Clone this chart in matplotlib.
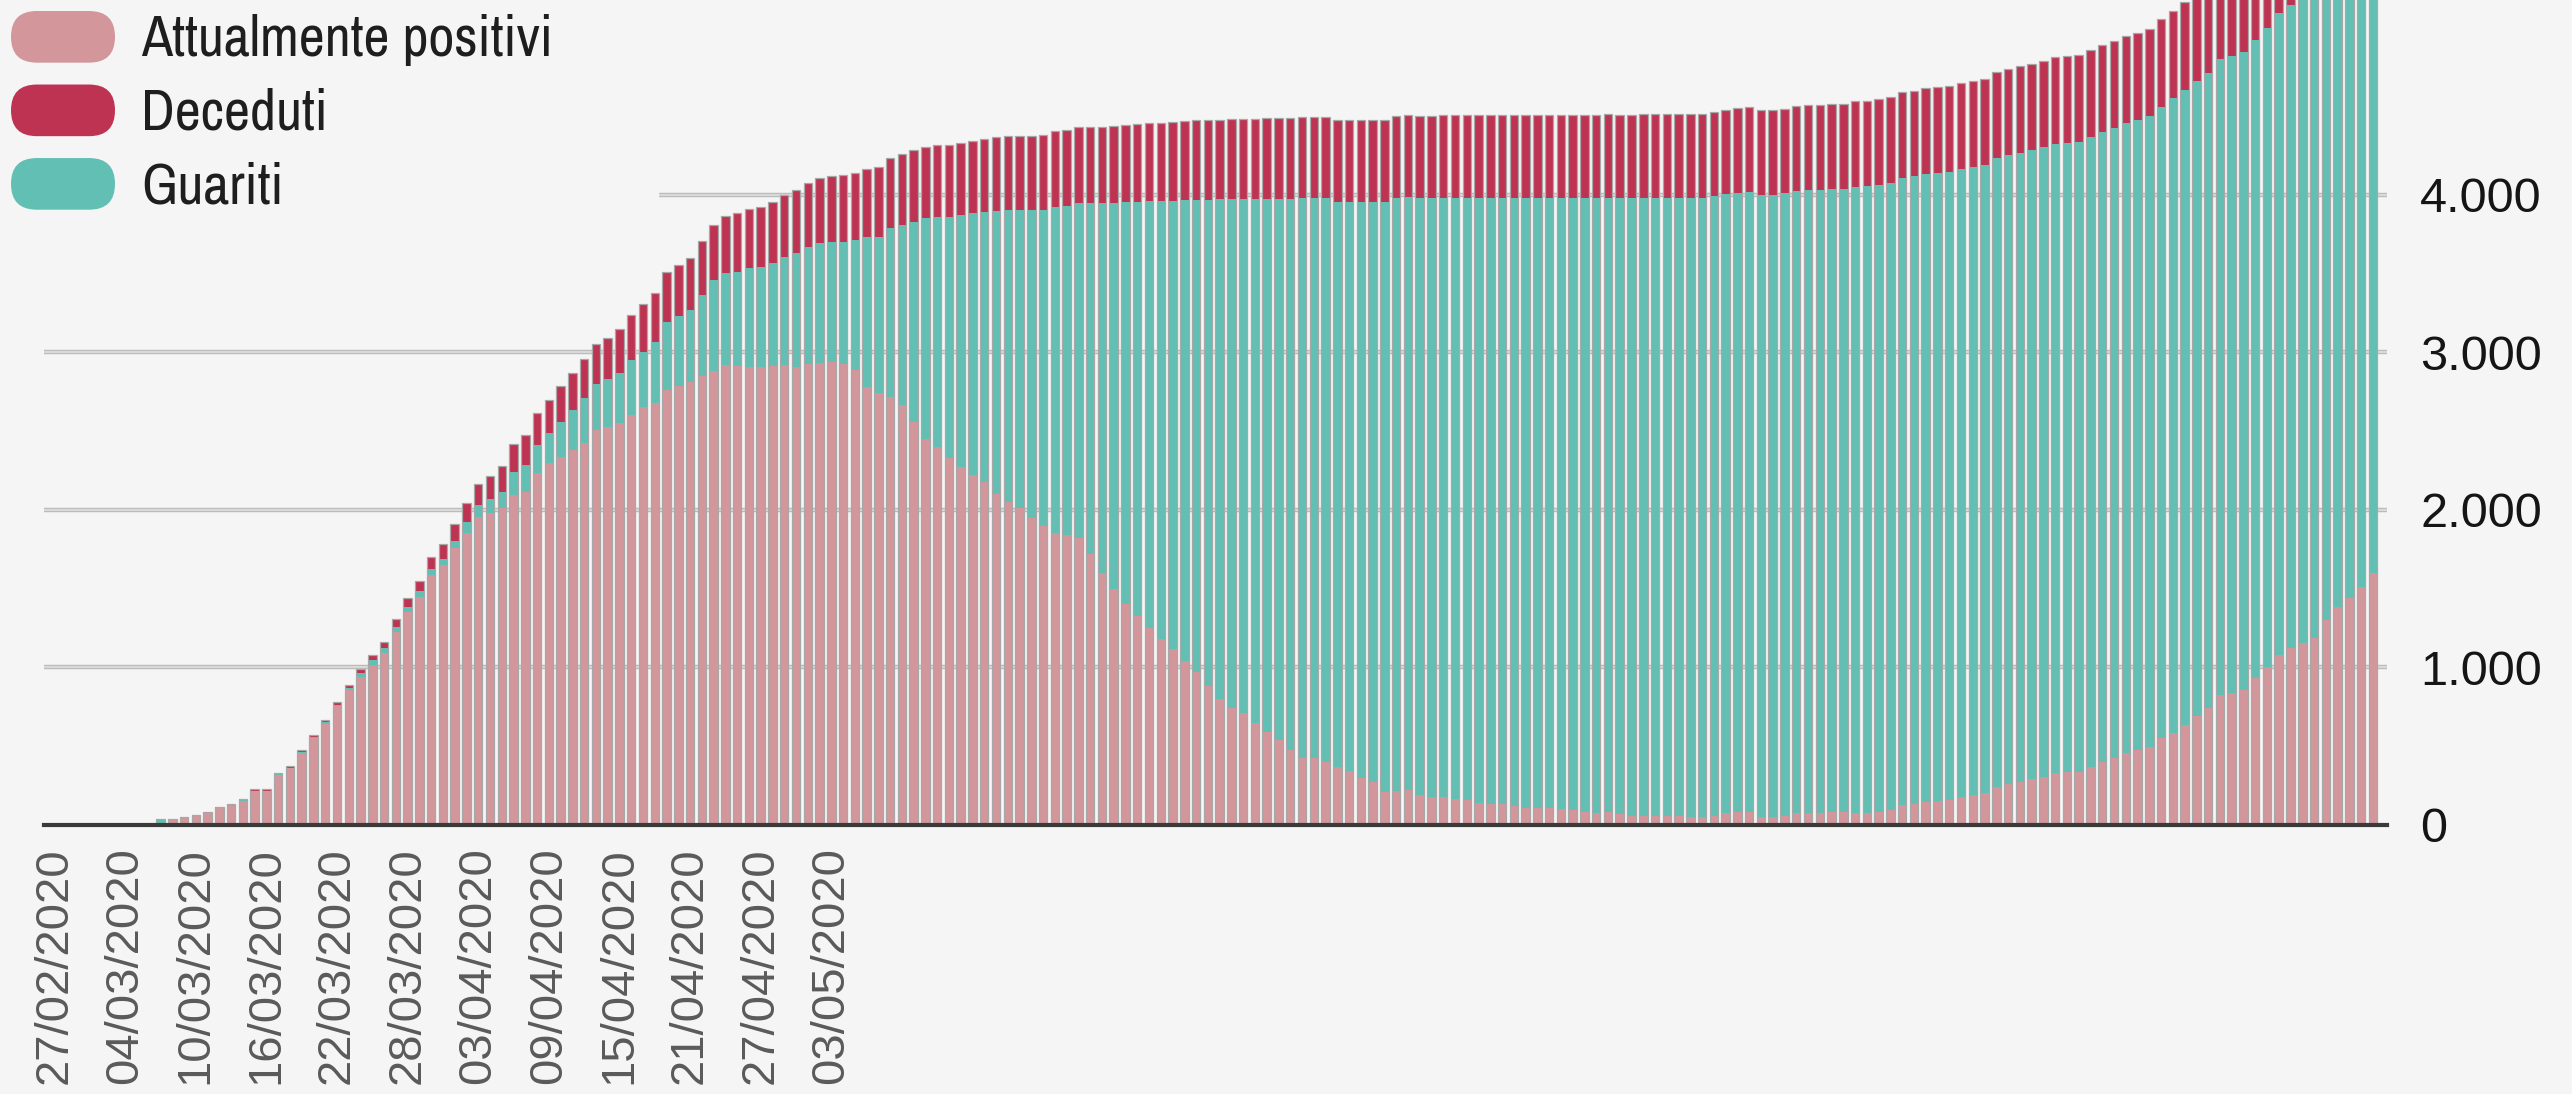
import numpy as np
import matplotlib.pyplot as plt
from matplotlib import font_manager as fm
from matplotlib.patches import FancyBboxPatch, Patch
from matplotlib.legend_handler import HandlerPatch

# daily values, 27/02/2020 -> 11/09/2020
positivi = [
    0, 0, 0, 0, 0, 0, 0, 0, 0, 10,
    38, 48, 60, 76, 105, 118, 155, 215, 214, 318,
    359, 458, 551, 644, 755, 857, 942, 1016, 1090, 1227,
    1354, 1450, 1587, 1651, 1757, 1852, 1958, 1979, 2011, 2095,
    2116, 2233, 2296, 2338, 2381, 2423, 2508, 2529, 2554, 2603,
    2656, 2680, 2760, 2790, 2810, 2850, 2880, 2920, 2915, 2905,
    2910, 2915, 2920, 2910, 2925, 2935, 2940, 2925, 2890, 2783,
    2740, 2720, 2667, 2560, 2450, 2400, 2330, 2270, 2220, 2180,
    2100, 2050, 2010, 1950, 1900, 1855, 1840, 1820, 1720, 1600,
    1500, 1400, 1330, 1250, 1180, 1120, 1040, 970, 880, 800,
    741, 709, 650, 593, 540, 476, 424, 424, 400, 370,
    340, 300, 270, 210, 215, 220, 190, 180, 180, 165,
    159, 140, 131, 133, 120, 106, 106, 106, 100, 95,
    85, 78, 80, 70, 57, 57, 57, 57, 55, 53,
    48, 60, 74, 80, 85, 53, 53, 60, 74, 76,
    78, 80, 80, 74, 78, 85, 95, 127, 135, 148,
    155, 159, 180, 190, 201, 243, 260, 275, 290, 307,
    328, 335, 339, 370, 400, 423, 455, 475, 497, 550,
    582, 635, 690, 740, 825, 840, 857, 931, 1000, 1079,
    1121, 1153, 1185, 1301, 1386, 1439, 1513, 1598,
]
guariti = [
    0, 0, 0, 0, 0, 0, 0, 0, 0, 25,
    1, 1, 1, 1, 2, 12, 2, 4, 4, 4,
    5, 6, 7, 7, 9, 11, 21, 32, 32, 32,
    32, 34, 36, 38, 45, 74, 75, 89, 105, 148,
    170, 180, 191, 223, 254, 290, 295, 300, 318, 349,
    350, 389, 436, 440, 460, 515, 580, 585, 598, 629,
    632, 651, 688, 720, 747, 758, 764, 779, 824, 948,
    995, 1068, 1143, 1271, 1402, 1462, 1532, 1603, 1663, 1714,
    1800, 1855, 1895, 1955, 2005, 2071, 2090, 2127, 2227, 2347,
    2450, 2555, 2628, 2710, 2782, 2845, 2928, 3000, 3090, 3172,
    3234, 3266, 3325, 3382, 3435, 3499, 3555, 3556, 3579, 3588,
    3618, 3658, 3688, 3748, 3764, 3766, 3789, 3799, 3800, 3814,
    3820, 3839, 3848, 3849, 3859, 3873, 3873, 3874, 3879, 3884,
    3894, 3901, 3902, 3909, 3922, 3922, 3923, 3923, 3924, 3926,
    3931, 3932, 3933, 3934, 3935, 3947, 3948, 3950, 3953, 3954,
    3955, 3956, 3957, 3979, 3980, 3981, 3982, 3983, 3984, 3985,
    3986, 3987, 3988, 3989, 3990, 3991, 3992, 3993, 3994, 3995,
    3996, 3997, 3998, 3999, 4000, 4001, 4002, 4003, 4004, 4011,
    4033, 4034, 4035, 4036, 4040, 4045, 4053, 4055, 4058, 4074,
    4085, 4090, 4100, 4110, 4120, 4130, 4140, 4150,
]
deceduti = [
    0, 0, 0, 0, 0, 0, 0, 0, 0, 0,
    1, 3, 4, 5, 5, 6, 6, 8, 9, 10,
    11, 12, 14, 16, 19, 23, 26, 31, 43, 50,
    58, 68, 80, 95, 110, 120, 132, 148, 162, 175,
    188, 200, 210, 225, 235, 243, 253, 263, 275, 288,
    300, 310, 318, 326, 333, 340, 352, 362, 372, 378,
    383, 388, 393, 400, 406, 412, 416, 420, 425, 432,
    440, 445, 449, 452, 454, 456, 458, 460, 462, 464,
    466, 468, 470, 472, 475, 478, 480, 483, 485, 487,
    489, 491, 493, 495, 497, 499, 501, 503, 505, 507,
    508, 509, 510, 511, 512, 513, 514, 515, 516, 517,
    518, 519, 520, 521, 522, 523, 524, 525, 525, 526,
    526, 527, 527, 528, 528, 529, 529, 530, 530, 530,
    531, 531, 532, 532, 532, 533, 533, 533, 534, 534,
    535, 535, 535, 536, 536, 537, 537, 538, 538, 539,
    539, 540, 540, 541, 541, 542, 542, 543, 543, 544,
    544, 545, 545, 546, 546, 547, 547, 548, 548, 549,
    549, 550, 550, 551, 551, 552, 552, 553, 553, 554,
    554, 555, 555, 556, 557, 558, 559, 560, 561, 562,
    563, 564, 565, 566, 567, 568, 569, 570,
]

date_labels = ['27/02/2020', '04/03/2020', '10/03/2020', '16/03/2020',
               '22/03/2020', '28/03/2020', '03/04/2020', '09/04/2020',
               '15/04/2020', '21/04/2020', '27/04/2020', '03/05/2020']
y_ticks = [0, 1000, 2000, 3000, 4000]
y_labels = ['0', '1.000', '2.000', '3.000', '4.000']
series_names = ['Attualmente positivi', 'Deceduti', 'Guariti']

bg = '#f5f5f5'
c_pos = '#d3969a'
c_dec = '#bf3352'
c_gua = '#61bfb3'

# the original legend uses a condensed face; take one if the system has it
narrow = [f.name for f in fm.fontManager.ttflist
          if 'Narrow' in f.name or 'Condensed' in f.name]
if narrow:
    leg_font, leg_size, leg_space = [narrow[0], 'Roboto'], 41, 0.32
else:
    leg_font, leg_size, leg_space = ['Roboto'], 35, 0.62


class PillHandler(HandlerPatch):
    def create_artists(self, legend, orig_handle, xdescent, ydescent,
                       width, height, fontsize, trans):
        p = FancyBboxPatch((-xdescent, -ydescent), width, height,
                           boxstyle=f'round,pad=0,rounding_size={height / 2}',
                           facecolor=orig_handle.get_facecolor(),
                           edgecolor='none', transform=trans)
        return [p]


fig = plt.figure(figsize=(25.72, 10.94), dpi=100, facecolor=bg)
ax = fig.add_axes([44 / 2572, 269 / 1094, 2343 / 2572, 825 / 1094])
ax.set_facecolor(bg)

pos = np.array(positivi)
gua = np.array(guariti)
dec = np.array(deceduti)
x = np.arange(len(pos))
w = 0.72

ax.bar(x, pos, width=w, color=c_pos, linewidth=0, zorder=2)
ax.bar(x, gua, width=w, bottom=pos, color=c_gua, linewidth=0, zorder=2)
ax.bar(x, dec, width=w, bottom=pos + gua, color=c_dec, linewidth=0, zorder=2)
# thin grey outline round every whole bar
ax.bar(x, pos + gua + dec, width=w, fill=False, edgecolor='#a8a8a8',
       linewidth=0.9, zorder=3)

for t in y_ticks[1:]:
    ax.axhline(t, color='#bcbcbc', lw=3.2, zorder=1)
    ax.axhline(t, color='#e2e2e2', lw=1.1, zorder=1.1)
ax.axhline(0, color='#3a3a3a', lw=3, zorder=4, clip_on=False)

ax.set_xlim(-0.9, len(x) + 0.2)
ax.set_ylim(0, 5238)
for s in ax.spines.values():
    s.set_visible(False)

ax.set_xticks(range(0, 6 * len(date_labels), 6))
ax.set_xticklabels(date_labels, rotation=90, fontsize=34, color='#5a5a5a',
                   family='Liberation Sans')
ax.tick_params(axis='x', length=0, pad=16)

ax.yaxis.tick_right()
ax.set_yticks(y_ticks)
ax.set_yticklabels(y_labels, fontsize=35, color='#151515', family='Liberation Sans')
ax.tick_params(axis='y', length=0, pad=24)

handles = [Patch(facecolor=c_pos, label=series_names[0]),
           Patch(facecolor=c_dec, label=series_names[1]),
           Patch(facecolor=c_gua, label=series_names[2])]
fs_px = leg_size * 100 / 72
leg = fig.legend(handles=handles, loc='upper left',
                 bbox_to_anchor=(0, 1, 658 / 2572, 0), mode='expand',
                 bbox_transform=fig.transFigure,
                 handler_map={Patch: PillHandler()},
                 frameon=True, facecolor=bg, edgecolor=bg, framealpha=1,
                 fancybox=False, borderaxespad=0, borderpad=11 / fs_px,
                 handlelength=104 / fs_px, handleheight=58 / fs_px,
                 handletextpad=26 / fs_px, labelspacing=leg_space,
                 prop={'family': leg_font, 'size': leg_size})
for t in leg.get_texts():
    t.set_color('#1e1e1e')

fig.savefig('out.png', dpi=100, facecolor=bg)
